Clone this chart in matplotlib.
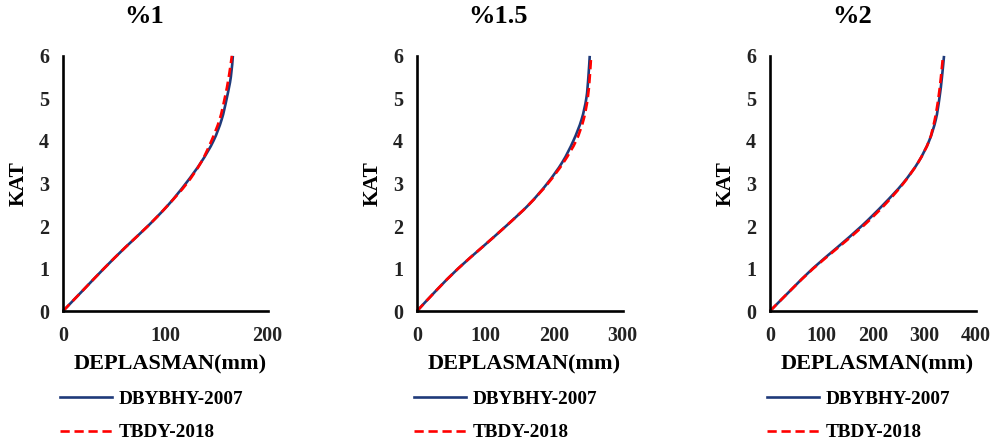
import matplotlib
matplotlib.use('Agg')
import matplotlib.pyplot as plt
from matplotlib.path import Path
from matplotlib.patches import PathPatch
from matplotlib.lines import Line2D

plt.rcParams['font.family'] = ['Liberation Serif', 'DejaVu Serif']
plt.rcParams['font.weight'] = 'bold'

# kat seviyeleri (yarim kat araliklarla)
kat = [0, 0.5, 1, 1.5, 2, 2.5, 3, 3.5, 4, 4.5, 5, 5.5, 6]

titles = ['%1', '%1.5', '%2']
xmax = [200, 300, 400]

# DBYBHY-2007 deplasmanlari (mm)
dbybhy_1 = [0, 20, 40, 61, 83, 103, 120, 135, 147, 155, 160, 164, 166]
dbybhy_15 = [0, 29, 60, 95, 130, 163, 190, 212, 228, 240, 247, 250, 252]
dbybhy_2 = [0, 41, 83, 131, 178, 220, 258, 288, 309, 322, 329, 334, 338]

# TBDY-2018 deplasmanlari (mm)
tbdy_1 = [0, 20, 40, 61, 83, 103, 121, 135, 145, 153, 158, 162, 165]
tbdy_15 = [0, 29, 60, 95, 130, 163, 191, 214, 232, 243, 249, 252, 254]
tbdy_2 = [0, 41, 84, 133, 181, 223, 259, 288, 309, 320, 327, 332, 336]

dbybhy = [dbybhy_1, dbybhy_15, dbybhy_2]
tbdy = [tbdy_1, tbdy_15, tbdy_2]


def smooth_path(xs, ys):
    # Excel tarzi yumusatilmis cizgi: noktalardan gecen kubik Bezier
    pts = list(zip(xs, ys))
    n = len(pts)
    verts = [pts[0]]
    codes = [Path.MOVETO]
    for k in range(n - 1):
        p0 = pts[k - 1] if k > 0 else pts[k]
        p1 = pts[k]
        p2 = pts[k + 1]
        p3 = pts[k + 2] if k + 2 < n else pts[k + 1]
        c1 = (p1[0] + (p2[0] - p0[0]) / 6, p1[1] + (p2[1] - p0[1]) / 6)
        c2 = (p2[0] - (p3[0] - p1[0]) / 6, p2[1] - (p3[1] - p1[1]) / 6)
        verts += [c1, c2, p2]
        codes += [Path.CURVE4] * 3
    return Path(verts, codes)


fig = plt.figure(figsize=(9.98, 4.47), dpi=100)
lefts = [0.0631, 0.4178, 0.7715]
widths = [0.2051, 0.2061, 0.2064]
title_x = [0.1443, 0.4985, 0.8537]

blue = '#1f3a7a'
red = '#ff0000'
dash = (0, (3.5, 1.8))

for i in range(3):
    ax = fig.add_axes([lefts[i], 0.304, widths[i], 0.571])
    ax.add_patch(PathPatch(smooth_path(dbybhy[i], kat), fill=False,
                           edgecolor=blue, lw=1.9, clip_on=False))
    ax.add_patch(PathPatch(smooth_path(tbdy[i], kat), fill=False,
                           edgecolor=red, lw=1.9, ls=dash, clip_on=False))
    ax.set_xlim(0, xmax[i])
    ax.set_ylim(0, 6)
    ax.set_xticks(range(0, xmax[i] + 1, 100))
    ax.set_yticks(range(0, 7))
    ax.spines['top'].set_visible(False)
    ax.spines['right'].set_visible(False)
    ax.spines['left'].set_linewidth(1.9)
    ax.spines['bottom'].set_linewidth(1.9)
    ax.tick_params(length=0, labelsize=14.5, colors='#222222')
    ax.tick_params(axis='y', pad=10)
    ax.tick_params(axis='x', pad=11)
    for lb in ax.get_xticklabels() + ax.get_yticklabels():
        lb.set_fontweight('bold')
    ax.set_xlabel('DEPLASMAN(mm)', fontsize=16, fontweight='bold', va='center')
    ax.xaxis.set_label_coords(0.522, -0.208)
    ax.set_ylabel('KAT', fontsize=15.5, fontweight='bold', va='center')
    ax.yaxis.set_label_coords(-0.217, 0.5)
    fig.text(title_x[i], 0.964, titles[i], fontsize=19, fontweight='bold',
             ha='center', va='center')
    handles = [Line2D([], [], color=blue, lw=1.9),
               Line2D([], [], color=red, lw=1.9, ls=dash)]
    ax.legend(handles, ['DBYBHY-2007', 'TBDY-2018'], loc='upper left',
              bbox_to_anchor=(-0.015, -0.31), frameon=False,
              borderpad=0, handlelength=2.7, handletextpad=0.35,
              labelspacing=0.85, borderaxespad=0,
              prop={'size': 13.8, 'weight': 'bold'})

plt.savefig('out.png', dpi=100)
